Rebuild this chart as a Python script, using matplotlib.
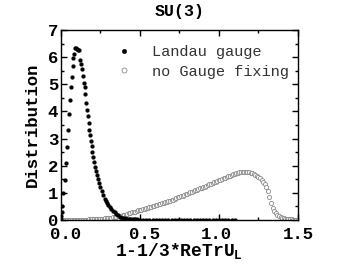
import numpy as np
import matplotlib
matplotlib.use("Agg")
import matplotlib.pyplot as plt
import matplotlib.transforms as mtransforms
from matplotlib.ticker import MultipleLocator, FormatStrFormatter

# Landau gauge (filled dots)
landau_x = [0.000, 0.003, 0.005, 0.008, 0.015, 0.023, 0.030, 0.036, 0.042, 0.049,
            0.056, 0.061, 0.068, 0.074, 0.078, 0.082, 0.090, 0.097, 0.103, 0.109,
            0.115, 0.122, 0.129, 0.133, 0.139, 0.144, 0.150, 0.154, 0.160, 0.165,
            0.171, 0.176, 0.181, 0.186, 0.190, 0.194, 0.200, 0.205, 0.211, 0.217,
            0.224, 0.230, 0.236, 0.243, 0.249, 0.257, 0.266, 0.276, 0.283, 0.291,
            0.300, 0.308, 0.318, 0.329, 0.340, 0.350, 0.360, 0.371, 0.385, 0.395,
            0.403, 0.41, 0.42, 0.43, 0.44, 0.45, 0.46, 0.47, 0.48, 0.49,
            0.50, 0.52, 0.54, 0.56, 0.58, 0.60, 0.62, 0.64, 0.66, 0.68,
            0.70, 0.72, 0.74, 0.76, 0.78, 0.80, 0.82, 0.84, 0.86, 0.88,
            0.90, 0.92, 0.94, 0.96, 0.98, 1.00, 1.02, 1.04, 1.06, 1.08, 1.10]
landau_y = [0.05, 0.15, 0.30, 0.52, 0.98, 1.47, 2.09, 2.70, 3.32, 3.89,
            4.42, 4.91, 5.26, 5.66, 5.98, 6.12, 6.32, 6.33, 6.29, 6.27,
            6.25, 5.88, 5.73, 5.56, 5.32, 5.04, 4.88, 4.63, 4.31, 4.05,
            3.83, 3.58, 3.32, 3.13, 2.92, 2.73, 2.50, 2.31, 2.13, 1.96,
            1.81, 1.66, 1.51, 1.35, 1.23, 1.08, 0.92, 0.79, 0.71, 0.64,
            0.56, 0.49, 0.41, 0.34, 0.28, 0.22, 0.17, 0.12, 0.09, 0.07,
            0.06, 0.05, 0.04, 0.04, 0.03, 0.03, 0.02, 0.02, 0.02, 0.01,
            0.01, 0.01, 0.01, 0.01, 0.0, 0.0, 0.0, 0.0, 0.0, 0.0,
            0.0, 0.0, 0.0, 0.0, 0.0, 0.0, 0.0, 0.0, 0.0, 0.0,
            0.0, 0.0, 0.0, 0.0, 0.0, 0.0, 0.0, 0.0, 0.0, 0.0, 0.0]

# No gauge fixing (open circles), bins 0.00 ... 1.50
nogf_x = [0.00, 0.01, 0.02, 0.03, 0.04, 0.05, 0.06, 0.07, 0.08, 0.09, 0.10,
          0.11, 0.12, 0.13, 0.14, 0.15, 0.16, 0.17, 0.18, 0.19, 0.20,
          0.21, 0.22, 0.23, 0.24, 0.25, 0.26, 0.27, 0.28, 0.29, 0.30,
          0.31, 0.32, 0.33, 0.34, 0.35, 0.36, 0.37, 0.38, 0.39, 0.40,
          0.41, 0.42, 0.43, 0.44, 0.45, 0.46, 0.47, 0.48, 0.49, 0.50,
          0.51, 0.52, 0.53, 0.54, 0.55, 0.56, 0.57, 0.58, 0.59, 0.60,
          0.61, 0.62, 0.63, 0.64, 0.65, 0.66, 0.67, 0.68, 0.69, 0.70,
          0.71, 0.72, 0.73, 0.74, 0.75, 0.76, 0.77, 0.78, 0.79, 0.80,
          0.81, 0.82, 0.83, 0.84, 0.85, 0.86, 0.87, 0.88, 0.89, 0.90,
          0.91, 0.92, 0.93, 0.94, 0.95, 0.96, 0.97, 0.98, 0.99, 1.00,
          1.01, 1.02, 1.03, 1.04, 1.05, 1.06, 1.07, 1.08, 1.09, 1.10,
          1.11, 1.12, 1.13, 1.14, 1.15, 1.16, 1.17, 1.18, 1.19, 1.20,
          1.21, 1.22, 1.23, 1.24, 1.25, 1.26, 1.27, 1.28, 1.29, 1.30,
          1.31, 1.32, 1.33, 1.34, 1.35, 1.36, 1.37, 1.38, 1.39, 1.40,
          1.41, 1.42, 1.43, 1.44, 1.45, 1.46, 1.47, 1.48, 1.49, 1.50]
nogf_y = [0.00, 0.00, 0.00, 0.00, 0.00, 0.00, 0.00, 0.00, 0.00, 0.00, 0.00,
          0.01, 0.01, 0.01, 0.01, 0.01, 0.01, 0.01, 0.02, 0.02, 0.02,
          0.03, 0.03, 0.03, 0.04, 0.04, 0.05, 0.05, 0.06, 0.06, 0.07,
          0.08, 0.09, 0.10, 0.11, 0.12, 0.13, 0.14, 0.16, 0.17, 0.19,
          0.20, 0.22, 0.24, 0.26, 0.28, 0.30, 0.31, 0.33, 0.35, 0.37,
          0.38, 0.40, 0.42, 0.44, 0.45, 0.47, 0.49, 0.51, 0.52, 0.54,
          0.56, 0.58, 0.60, 0.62, 0.63, 0.65, 0.67, 0.69, 0.71, 0.73,
          0.75, 0.78, 0.80, 0.83, 0.85, 0.88, 0.90, 0.92, 0.95, 0.97,
          0.99, 1.02, 1.04, 1.07, 1.09, 1.11, 1.14, 1.16, 1.19, 1.21,
          1.23, 1.26, 1.28, 1.31, 1.33, 1.36, 1.38, 1.41, 1.43, 1.46,
          1.48, 1.51, 1.53, 1.56, 1.58, 1.61, 1.63, 1.66, 1.68, 1.70,
          1.72, 1.74, 1.75, 1.77, 1.77, 1.78, 1.78, 1.77, 1.76, 1.74,
          1.72, 1.70, 1.67, 1.63, 1.58, 1.53, 1.47, 1.40, 1.31, 1.20,
          1.06, 0.86, 0.62, 0.44, 0.33, 0.25, 0.19, 0.15, 0.12, 0.09,
          0.07, 0.05, 0.04, 0.03, 0.02, 0.02, 0.01, 0.01, 0.00, 0.00]

title = "SU(3)"
xlabel = "1-1/3*ReTrU$_\\mathregular{L}$"
ylabel = "Distribution"
labels = ["Landau gauge", "no Gauge fixing"]

fig = plt.figure(figsize=(3.46, 2.65), dpi=100)
ax = fig.add_axes([0.176, 0.170, 0.685, 0.717])

ax.plot(nogf_x, nogf_y, linestyle="none", marker="o", ms=3.0, mfc="white",
        mec="#8a8a8a", mew=0.6, label=labels[1], zorder=2)
ax.plot(landau_x, landau_y, linestyle="none", marker="o", ms=2.8, mfc="black",
        mec="black", mew=0.2, label=labels[0], zorder=3)

ax.set_xlim(0, 1.5)
ax.set_ylim(0, 7)
ax.xaxis.set_major_locator(MultipleLocator(0.5))
ax.xaxis.set_minor_locator(MultipleLocator(0.25))
ax.yaxis.set_major_locator(MultipleLocator(1))
ax.yaxis.set_minor_locator(MultipleLocator(0.5))
ax.xaxis.set_major_formatter(FormatStrFormatter("%.1f"))
ax.tick_params(which="both", direction="in", top=True, right=True, width=1.0,
               labelsize=12.5)
ax.tick_params(axis="x", which="major", pad=5)
ax.tick_params(axis="y", which="major", pad=2)
ax.tick_params(which="major", length=4)
ax.tick_params(which="minor", length=2.5)
for s in ax.spines.values():
    s.set_linewidth(1.0)
for lab in ax.get_xticklabels() + ax.get_yticklabels():
    lab.set_family("Liberation Mono")
    lab.set_weight("bold")

# x tick labels in the reference sit slightly right of their ticks
shifts_px = [5, 5, 5, -3]
for lab, dx in zip(ax.get_xticklabels(), shifts_px):
    off = mtransforms.ScaledTranslation(dx / 100.0, 0, fig.dpi_scale_trans)
    lab.set_transform(lab.get_transform() + off)
# the "0" on the y axis sits a little above its tick
ylabs = ax.get_yticklabels()
off_up = mtransforms.ScaledTranslation(0, 2.5 / 100.0, fig.dpi_scale_trans)
ylabs[0].set_transform(ylabs[0].get_transform() + off_up)

ax.set_title(title, family="Liberation Mono", weight="bold", fontsize=12, pad=10)
ax.set_xlabel(xlabel, family="Liberation Mono", weight="bold", fontsize=13, labelpad=-1)
ax.set_ylabel(ylabel, family="Liberation Mono", weight="bold", fontsize=12.5, labelpad=6)

h, l = ax.get_legend_handles_labels()
leg = ax.legend([h[1], h[0]], [l[1], l[0]], loc="upper left",
                bbox_to_anchor=(0.19, 0.975), frameon=False,
                prop={"family": "Liberation Mono", "size": 11},
                handletextpad=1.3, handlelength=1.0, labelspacing=0.35,
                markerscale=1.2, borderaxespad=0.3)
for t in leg.get_texts():
    t.set_color("#333333")

fig.savefig("out.png", dpi=100)
